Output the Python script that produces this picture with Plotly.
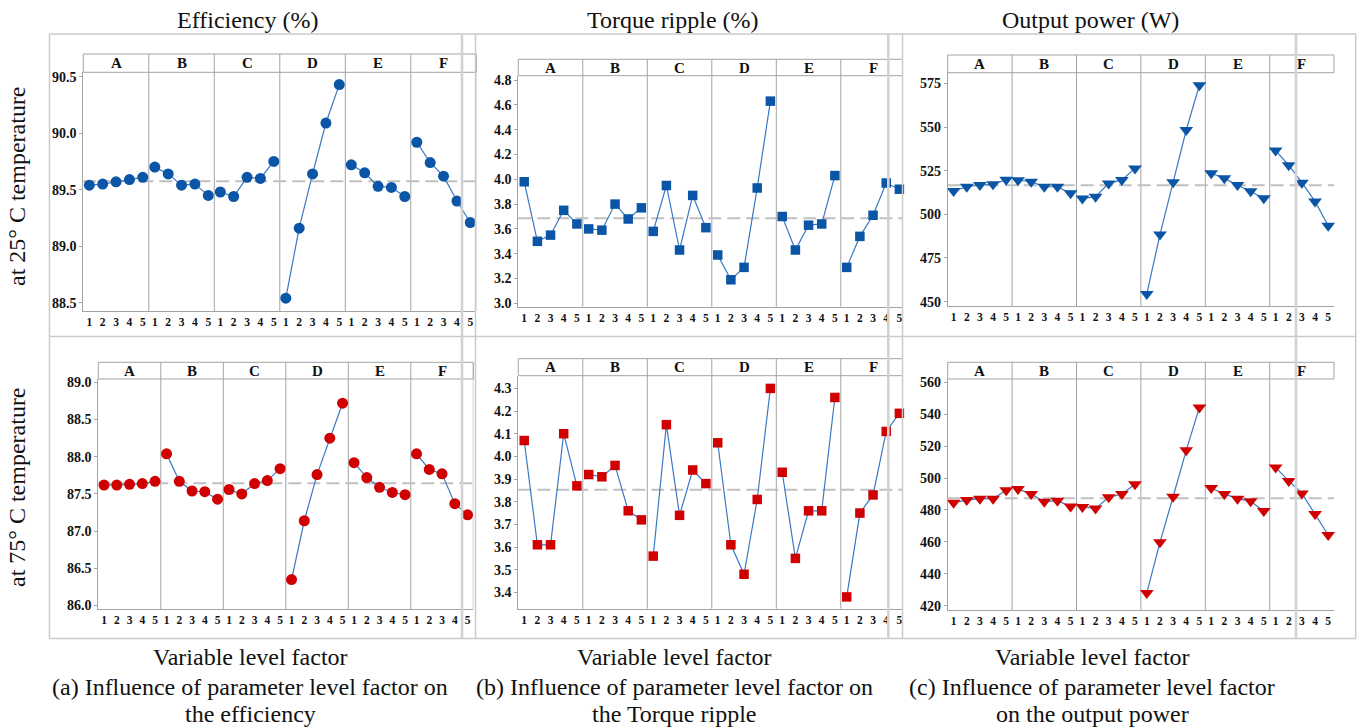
import plotly.graph_objects as go
import numpy as np

# ---------------- data ----------------
factors = ["A", "B", "C", "D", "E", "F"]
levels = [1, 2, 3, 4, 5]

col_titles = ["Efficiency (%)", "Torque ripple (%)", "Output power (W)"]
row_titles = ["at 25° C temperature", "at 75° C temperature"]
x_title = "Variable level factor"
captions = [
    ["(a) Influence of parameter level factor on", "the efficiency"],
    ["(b) Influence of parameter level factor on", "the Torque ripple"],
    ["(c) Influence of parameter level factor", "on the output power"],
]

# rows = factors A..F, columns = levels 1..5
eff_25 = [
    [89.54, 89.55, 89.57, 89.59, 89.61],
    [89.70, 89.64, 89.54, 89.55, 89.45],
    [89.48, 89.44, 89.61, 89.60, 89.75],
    [88.54, 89.16, 89.64, 90.09, 90.43],
    [89.72, 89.65, 89.53, 89.52, 89.44],
    [89.92, 89.74, 89.62, 89.40, 89.21],
]
ripple_25 = [
    [3.98, 3.50, 3.55, 3.75, 3.64],
    [3.60, 3.59, 3.80, 3.68, 3.77],
    [3.58, 3.95, 3.43, 3.87, 3.61],
    [3.39, 3.19, 3.29, 3.93, 4.63],
    [3.70, 3.43, 3.63, 3.64, 4.03],
    [3.29, 3.54, 3.71, 3.97, 3.92],
]
power_25 = [
    [513.4, 515.8, 516.8, 517.2, 519.8],
    [519.5, 518.7, 515.8, 515.8, 512.0],
    [509.0, 510.1, 517.7, 519.7, 526.3],
    [454.4, 488.4, 518.3, 548.3, 573.9],
    [523.5, 520.6, 516.8, 513.2, 509.2],
    [536.5, 528.1, 518.1, 507.4, 493.5],
]
eff_75 = [
    [87.62, 87.62, 87.63, 87.64, 87.67],
    [88.04, 87.67, 87.54, 87.53, 87.43],
    [87.56, 87.50, 87.64, 87.68, 87.84],
    [86.35, 87.14, 87.76, 88.25, 88.72],
    [87.92, 87.72, 87.59, 87.52, 87.49],
    [88.04, 87.83, 87.77, 87.37, 87.22],
]
ripple_75 = [
    [4.07, 3.61, 3.61, 4.10, 3.87],
    [3.92, 3.91, 3.96, 3.76, 3.72],
    [3.56, 4.14, 3.74, 3.94, 3.88],
    [4.06, 3.61, 3.48, 3.81, 4.30],
    [3.93, 3.55, 3.76, 3.76, 4.26],
    [3.38, 3.75, 3.83, 4.11, 4.19],
]
power_75 = [
    [484.6, 486.2, 487.1, 487.1, 492.3],
    [493.1, 490.0, 485.2, 485.8, 482.1],
    [481.9, 481.0, 487.9, 490.0, 496.1],
    [428.0, 459.7, 488.3, 517.4, 544.3],
    [493.8, 490.0, 487.1, 485.4, 479.3],
    [506.7, 498.2, 490.4, 477.5, 464.3],
]

eff_25_ticks = [88.5, 89.0, 89.5, 90.0, 90.5]
ripple_25_ticks = [3.0, 3.2, 3.4, 3.6, 3.8, 4.0, 4.2, 4.4, 4.6, 4.8]
power_25_ticks = [450, 475, 500, 525, 550, 575]
eff_75_ticks = [86.0, 86.5, 87.0, 87.5, 88.0, 88.5, 89.0]
ripple_75_ticks = [3.4, 3.5, 3.6, 3.7, 3.8, 3.9, 4.0, 4.1, 4.2, 4.3]
power_75_ticks = [420, 440, 460, 480, 500, 520, 540, 560]

# ---------------- styling / geometry ----------------
FIG_W, FIG_H = 1362, 728
SERIF = "Liberation Serif"
BLUE = "#0a55a5"
RED = "#d00000"
LINE = "#3a78c2"
FRAME = "#a3a3a3"
CELL = "#cacaca"
BIG = 24

W = 4.9     # width of one factor block in axis units
PAD = 0.45  # offset of level 1 from the block start


def px(x):
    return x / FIG_W


def py(y):
    return 1 - y / FIG_H


# pixel geometry: left, right_visible, facet_px, header_top, data_top, bottom
panels = [
    dict(data=eff_25, ticks=eff_25_ticks, fmt="{:.1f}", yr=[88.427, 90.539],
         geo=(83.3, 476.3, 65.5, 54.0, 72.3, 311.0), sym="circle", size=11, color=BLUE),
    dict(data=ripple_25, ticks=ripple_25_ticks, fmt="{:.1f}", yr=[2.973, 4.835],
         geo=(518.3, 902.5, 64.5, 59.3, 75.7, 306.7), sym="square", size=9.5, color=BLUE),
    dict(data=power_25, ticks=power_25_ticks, fmt="{:d}", yr=[447.5, 581.1],
         geo=(947.7, 1334.0, 64.4, 55.0, 72.7, 306.0), sym="triangle-down", size=12, color=BLUE),
    dict(data=eff_75, ticks=eff_75_ticks, fmt="{:.1f}", yr=[85.95, 89.045],
         geo=(98.3, 473.3, 62.5, 362.3, 379.0, 609.3), sym="circle", size=11, color=RED),
    dict(data=ripple_75, ticks=ripple_75_ticks, fmt="{:.1f}", yr=[3.328, 4.356],
         geo=(518.3, 902.5, 64.5, 358.7, 375.7, 608.7), sym="square", size=9.5, color=RED),
    dict(data=power_75, ticks=power_75_ticks, fmt="{:d}", yr=[417.3, 562.1],
         geo=(947.7, 1334.0, 64.4, 362.3, 379.0, 610.0), sym="triangle-down", size=12, color=RED),
]

fig = go.Figure()
shapes = []
annotations = []
layout_axes = {}

tickvals = [k * W + PAD + (l - 1) for k in range(len(factors)) for l in levels]
ticktext = [str(l) for k in range(len(factors)) for l in levels]

for i, p in enumerate(panels):
    n = i + 1
    xa = "x" if n == 1 else f"x{n}"
    ya = "y" if n == 1 else f"y{n}"
    left, right, fpx, htop, dtop, bottom = p["geo"]
    xmax = (right - left) / fpx * W

    for k, f in enumerate(factors):
        xs = [k * W + PAD + (l - 1) for l in levels]
        fig.add_trace(go.Scatter(
            x=xs, y=p["data"][k], mode="lines+markers",
            line=dict(color=LINE, width=1.2),
            marker=dict(symbol=p["sym"], size=p["size"], color=p["color"],
                        line=dict(width=0)),
            cliponaxis=False, showlegend=False, hoverinfo="y",
            xaxis=xa, yaxis=ya,
        ))

    layout_axes[f"xaxis{'' if n == 1 else n}"] = dict(
        domain=[px(left), px(right)], range=[0, xmax], anchor=ya,
        showline=True, linecolor=FRAME, linewidth=1, mirror=False,
        showgrid=False, zeroline=False, ticks="", automargin=False,
        tickmode="array", tickvals=tickvals, ticktext=ticktext,
        tickfont=dict(family=SERIF, size=11.5, color="#111111", weight=700),
        fixedrange=True,
    )
    layout_axes[f"yaxis{'' if n == 1 else n}"] = dict(
        domain=[py(bottom), py(dtop)], range=p["yr"], anchor=xa,
        showline=True, linecolor=FRAME, linewidth=1, mirror=False,
        showgrid=False, zeroline=False, ticks="outside", ticklen=3,
        tickcolor=FRAME, automargin=False,
        tickmode="array", tickvals=p["ticks"],
        ticktext=[p["fmt"].format(t) for t in p["ticks"]],
        tickfont=dict(family=SERIF, size=14, color="#111111", weight=700),
        fixedrange=True,
    )

    # header strip
    shapes.append(dict(type="rect", xref=f"{xa} domain", x0=0, x1=1,
                       yref="paper", y0=py(dtop), y1=py(htop),
                       line=dict(color=FRAME, width=1), fillcolor="white", layer="below"))
    # factor separators and right frame
    for k in range(1, len(factors) + 1):
        if k * W <= xmax + 1e-9:
            shapes.append(dict(type="line", xref=xa, x0=k * W, x1=k * W,
                               yref="paper", y0=py(bottom), y1=py(htop),
                               line=dict(color=FRAME, width=1), layer="below"))
    # grand mean reference line
    grand_mean = float(np.mean(p["data"]))
    shapes.append(dict(type="line", xref=f"{xa} domain", x0=0, x1=1,
                       yref=ya, y0=grand_mean, y1=grand_mean,
                       line=dict(color="#c0c0c0", width=2, dash="13px,6px"),
                       layer="below"))
    # factor labels in header
    for k, f in enumerate(factors):
        annotations.append(dict(text=f"<b>{f}</b>", xref=xa, x=k * W + W / 2,
                                yref="paper", y=py((htop + dtop) / 2),
                                showarrow=False, xanchor="center", yanchor="middle",
                                font=dict(family=SERIF, size=15, color="#111111")))

# table cell borders
col_edges = [49.5, 475.5, 902.5, 1355.7]
row_edges = [34.0, 336.5, 638.5]
for ye in row_edges:
    shapes.append(dict(type="line", xref="paper", yref="paper",
                       x0=px(col_edges[0]), x1=px(col_edges[-1]), y0=py(ye), y1=py(ye),
                       line=dict(color=CELL, width=1.5), layer="above"))
for xe in col_edges:
    shapes.append(dict(type="line", xref="paper", yref="paper",
                       x0=px(xe), x1=px(xe), y0=py(row_edges[0]), y1=py(row_edges[-1]),
                       line=dict(color=CELL, width=1.5), layer="above"))
# cropping artefact lines
for xe in [462.0, 888.3, 1296.0]:
    shapes.append(dict(type="line", xref="paper", yref="paper",
                       x0=px(xe), x1=px(xe), y0=py(row_edges[0]), y1=py(row_edges[-1]),
                       line=dict(color="#d2d2d2", width=2.6), layer="above"))

# column titles and captions
col_centers = [247, 673, 1090]
cap_centers = [250, 674, 1092]
for c, t in enumerate(col_titles):
    annotations.append(dict(text=t, xref="paper", yref="paper", x=px(col_centers[c]),
                            y=py(20), showarrow=False, xanchor="center", yanchor="middle",
                            font=dict(family=SERIF, size=BIG, color="#111111")))
    annotations.append(dict(text=x_title, xref="paper", yref="paper", x=px(cap_centers[c]),
                            y=py(657), showarrow=False, xanchor="center", yanchor="middle",
                            font=dict(family=SERIF, size=BIG, color="#111111")))
    annotations.append(dict(text=captions[c][0], xref="paper", yref="paper", x=px(cap_centers[c]),
                            y=py(687), showarrow=False, xanchor="center", yanchor="middle",
                            font=dict(family=SERIF, size=BIG, color="#111111")))
    annotations.append(dict(text=captions[c][1], xref="paper", yref="paper", x=px(cap_centers[c]),
                            y=py(714), showarrow=False, xanchor="center", yanchor="middle",
                            font=dict(family=SERIF, size=BIG, color="#111111")))

# row titles
for r, t in enumerate(row_titles):
    annotations.append(dict(text=t, xref="paper", yref="paper", x=px(17),
                            y=py([186, 487][r]), showarrow=False, textangle=-90,
                            xanchor="center", yanchor="middle",
                            font=dict(family=SERIF, size=BIG, color="#111111")))

fig.update_layout(
    width=FIG_W, height=FIG_H, template="none",
    margin=dict(l=0, r=0, t=0, b=0, pad=0),
    paper_bgcolor="white", plot_bgcolor="white",
    font=dict(family=SERIF),
    showlegend=False, shapes=shapes, annotations=annotations,
    **layout_axes,
)

fig.write_html("out.html")
